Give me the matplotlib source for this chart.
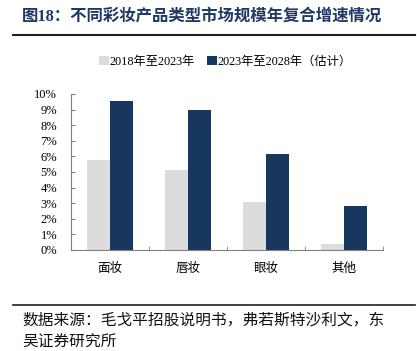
import matplotlib
matplotlib.use("Agg")
import matplotlib.pyplot as plt
import numpy as np
from matplotlib.ticker import FuncFormatter, FixedLocator

categories = ["面妆", "唇妆", "眼妆", "其他"]
series_names = ["2018年至2023年", "2023年至2028年（估计）"]
cagr_2018_2023 = [5.8, 5.1, 3.1, 0.4]
cagr_2023_2028 = [9.55, 8.95, 6.15, 2.85]
yticks = list(range(0, 11))

title = "图18：不同彩妆产品类型市场规模年复合增速情况"
source = "数据来源：毛戈平招股说明书，弗若斯特沙利文，东\n吴证券研究所"

FONT = ["Liberation Serif", "Noto Sans CJK SC"]
plt.rcParams["font.family"] = FONT

light = "#DCDCDC"
dark = "#17375E"

fig = plt.figure(figsize=(4.17, 3.51), dpi=100)
W, H = 417, 351
ax = fig.add_axes([71 / W, 1 - 250 / H, (383 - 71) / W, (250 - 94) / H])

x = np.arange(len(categories))
bw = 0.30
ax.bar(x - bw / 2, cagr_2018_2023, bw, color=light, label=series_names[0])
ax.bar(x + bw / 2, cagr_2023_2028, bw, color=dark, label=series_names[1])

ax.set_xlim(-0.5, len(categories) - 0.5)
ax.set_ylim(0, 10)
ax.set_yticks(yticks)
ax.yaxis.set_major_formatter(FuncFormatter(lambda v, p: f"{int(v)}%"))
ax.set_xticks(x)
ax.set_xticklabels(categories, fontsize=9)
ax.xaxis.set_minor_locator(FixedLocator(np.arange(len(categories) + 1) - 0.5))
ax.tick_params(axis="x", which="major", length=0, pad=9)
ax.tick_params(axis="x", which="minor", direction="in", length=3, color="#808080")
ax.tick_params(axis="y", direction="in", length=3, color="#808080", labelsize=9, pad=10)
for s in ["top", "right"]:
    ax.spines[s].set_visible(False)
for s in ["left", "bottom"]:
    ax.spines[s].set_color("#808080")
    ax.spines[s].set_linewidth(0.8)

leg = fig.legend(loc="center", bbox_to_anchor=(225 / W, 1 - 62 / H), ncol=2, frameon=False,
                 fontsize=8.8, handlelength=0.8, handleheight=0.8, handletextpad=0.05,
                 columnspacing=1.0)

fig.text(22 / W, 1 - 17 / H, title, fontsize=11.8, fontweight="bold", color="#1F3864",
         va="center", ha="left")
fig.add_artist(plt.Line2D([13 / W, 415 / W], [1 - 35 / H, 1 - 35 / H], color="#222222", lw=1.5))
fig.add_artist(plt.Line2D([13 / W, 415 / W], [1 - 305 / H, 1 - 305 / H], color="#222222", lw=1.2))
fig.text(22 / W, 1 - 313 / H, source, fontsize=11.3, color="#111111", va="top", ha="left",
         linespacing=1.5)

fig.savefig("out.png", dpi=100)
